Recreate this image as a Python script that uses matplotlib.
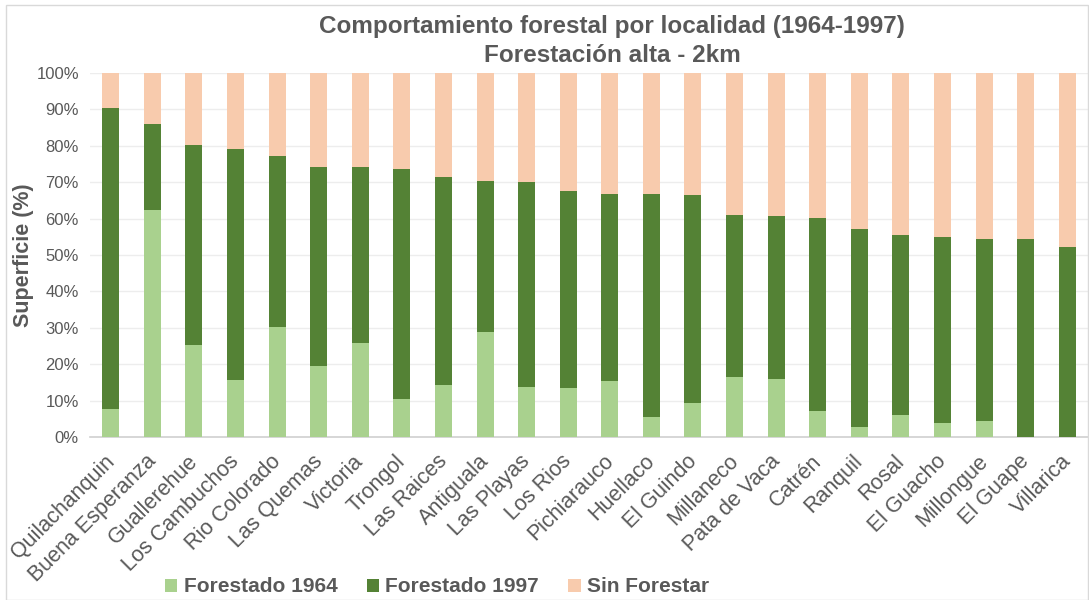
import numpy as np
import matplotlib.pyplot as plt
import matplotlib.transforms as mtransforms
from matplotlib.patches import Rectangle
from matplotlib.ticker import PercentFormatter

# Localidades y superficies (%)
localidades = ["Quilachanquin", "Buena Esperanza", "Guallerehue", "Los Cambuchos",
               "Rio Colorado", "Las Quemas", "Victoria", "Trongol", "Las Raices",
               "Antiguala", "Las Playas", "Los Rios", "Pichiarauco", "Huellaco",
               "El Guindo", "Millaneco", "Pata de Vaca", "Catrén", "Ranquil",
               "Rosal", "El Guacho", "Millongue", "El Guape", "Villarica"]

forestado_1964 = [7.7, 62.3, 25.3, 15.7, 30.2, 19.4, 25.8, 10.5, 14.2, 28.8, 13.7, 13.4,
                  15.5, 5.5, 9.4, 16.6, 15.9, 7.1, 2.7, 6.0, 3.8, 4.5, 0.0, 0.0]
forestado_1997 = [82.6, 23.7, 54.9, 63.3, 47.1, 54.8, 48.4, 63.0, 57.2, 41.4, 56.3, 54.1,
                  51.2, 61.2, 57.1, 44.4, 44.7, 53.1, 54.4, 49.5, 51.1, 50.0, 54.4, 52.1]
sin_forestar = [9.7, 14.0, 19.8, 21.0, 22.7, 25.8, 25.8, 26.5, 28.6, 29.8, 30.0, 32.5,
                33.3, 33.3, 33.5, 39.0, 39.4, 39.8, 42.9, 44.5, 45.1, 45.5, 45.6, 47.9]

series = ["Forestado 1964", "Forestado 1997", "Sin Forestar"]
colores = ["#A9D18E", "#548235", "#F8CBAD"]
gris = "#595959"

plt.rcParams['font.family'] = ['Liberation Sans', 'DejaVu Sans']

fig = plt.figure(figsize=(10.89, 6.0), dpi=100)
ax = fig.add_axes([90 / 1089, 1 - 437 / 600, 998 / 1089, 364 / 600])

x = np.arange(len(localidades))
base = np.zeros(len(localidades))
for nombre, valores, color in zip(series, [forestado_1964, forestado_1997, sin_forestar], colores):
    v = np.array(valores)
    ax.bar(x, v, 0.41, bottom=base, color=color, label=nombre, zorder=3)
    base = base + v

ax.set_xlim(-0.5, len(localidades) - 0.5)
ax.set_ylim(0, 100)
ax.set_yticks(np.arange(0, 101, 10))
ax.yaxis.set_major_formatter(PercentFormatter(decimals=0))
ax.grid(axis='y', color='#EDEDED', linewidth=1, zorder=0)

for s in ['top', 'right', 'left']:
    ax.spines[s].set_visible(False)
ax.spines['bottom'].set_color('#D0D0D0')
ax.spines['bottom'].set_linewidth(1.2)
ax.tick_params(axis='both', length=0, colors=gris)
ax.tick_params(axis='y', labelsize=12, pad=8)

ax.set_xticks(x)
ax.set_xticklabels(localidades, rotation=45, ha='right', va='top',
                   rotation_mode='anchor', fontsize=15.5, color=gris)
offset = mtransforms.ScaledTranslation(-7 / 100, -9 / 100, fig.dpi_scale_trans)
for lbl in ax.get_xticklabels():
    lbl.set_transform(lbl.get_transform() + offset)

ax.set_ylabel("Superficie (%)", fontsize=15.5, fontweight='bold', color=gris)
ax.yaxis.set_label_coords((34 - 90) / 998, 0.5)

fig.text(612 / 1089, 1 - 27 / 600, "Comportamiento forestal por localidad (1964-1997)",
         ha='center', va='center', fontsize=17.5, fontweight='bold', color=gris)
fig.text(612 / 1089, 1 - 56 / 600, "Forestación alta - 2km",
         ha='center', va='center', fontsize=17.5, fontweight='bold', color=gris)

leg = fig.legend(loc='center', bbox_to_anchor=(437 / 1089, 1 - 587 / 600), ncol=3,
                 frameon=False, handlelength=0.6, handleheight=0.6, handletextpad=0.3,
                 columnspacing=1.4, prop={'size': 15, 'weight': 'bold'})
for t in leg.get_texts():
    t.set_color(gris)

fig.patches.append(Rectangle((6 / 1089, 0.0), 1082 / 1089, 1 - 5 / 600, transform=fig.transFigure,
                             fill=False, edgecolor='#D9D9D9', linewidth=1))

fig.savefig("out.png", dpi=100)
